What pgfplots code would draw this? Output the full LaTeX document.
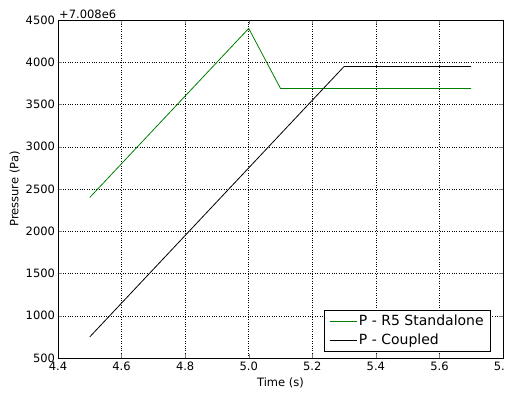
\documentclass[border=0pt]{standalone}
\usepackage{pgfplots}
\pgfplotsset{compat=1.18}
\usepackage{fontspec}
\setmainfont{DejaVu Sans}
\definecolor{mplgreen}{rgb}{0,0.5,0}
\begin{document}
\fontsize{11.5}{13}\selectfont
\begin{tikzpicture}
\begin{axis}[
  scale only axis,
  width=445pt, height=338pt,
  xmin=4.4, xmax=5.8, ymin=500, ymax=4500,
  xtick={4.4,4.6,...,5.8},
  ytick={500,1000,...,4500},
  /pgf/number format/assume math mode=true,
  /pgf/number format/1000 sep={},
  xticklabel style={/pgf/number format/fixed,/pgf/number format/fixed zerofill,/pgf/number format/precision=1},
  tick label style={font=\fontsize{11.5}{13}\selectfont},
  yticklabel style={xshift=1pt},
  label style={font=\fontsize{11.5}{13}\selectfont},
  xlabel={Time (s)}, ylabel={Pressure (Pa)},
  xlabel style={yshift=1pt},
  ylabel style={yshift=-2pt},
  tick align=inside,
  tick pos=both,
  major tick length=4pt,
  grid=major,
  major grid style={black, dotted, line width=0.5pt},
  axis line style={line width=0.8pt},
  legend style={at={(0.973,0.018)}, anchor=south east, draw=black, line width=0.6pt, font=\fontsize{14}{16}\selectfont, row sep=3pt, inner xsep=5pt, inner ysep=3pt},
  legend cell align=left,
  legend image code/.code={\draw[#1, line width=1pt] (0pt,0pt) -- (20pt,0pt); \path (0pt,0pt) -- (27pt,0pt);},
  clip=false,
]
\addplot[mplgreen, line width=0.8pt] coordinates {(4.5,2400) (5.0,4400) (5.1,3690) (5.7,3690)};
\addlegendentry{P - R5 Standalone}
\addplot[black, line width=0.8pt] coordinates {(4.5,750) (5.3,3950) (5.7,3950)};
\addlegendentry{P - Coupled}
\node[anchor=south west, inner sep=1pt, font=\fontsize{11.5}{13}\selectfont] at (rel axis cs:0,1) {+7.008e6};
\end{axis}
\pgfresetboundingbox
\path (-58pt,-36pt) rectangle (447pt,358pt);
\end{tikzpicture}
\end{document}
